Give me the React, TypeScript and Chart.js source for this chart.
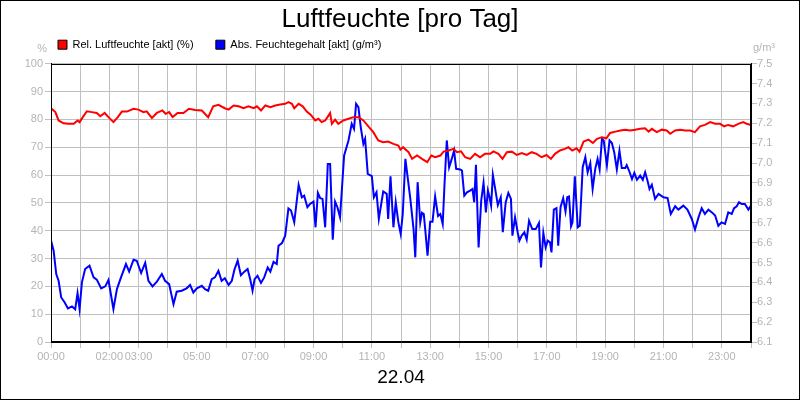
import { useEffect, useRef } from 'react';
import { Chart, ChartConfiguration, registerables } from 'chart.js';

Chart.register(...registerables);

// Rel. Luftfeuchte: time of day (hours) and value (%)
const relHours = [
    0, 0.15, 0.26, 0.43, 0.6, 0.78, 0.91, 0.98, 1.09, 1.23,
    1.4, 1.57, 1.69, 1.84, 1.97, 2.14, 2.29, 2.43, 2.6, 2.83,
    3.0, 3.17, 3.28, 3.46, 3.63, 3.82, 3.93, 4.05, 4.17, 4.34,
    4.54, 4.73, 4.94, 5.17, 5.39, 5.56, 5.74, 5.96, 6.09, 6.26,
    6.43, 6.6, 6.77, 6.95, 7.06, 7.2, 7.35, 7.52, 7.69, 7.86,
    8.03, 8.14, 8.26, 8.34, 8.49, 8.63, 8.77, 8.91, 9.06, 9.17,
    9.28, 9.4, 9.48, 9.57, 9.63, 9.74, 9.85, 10.02, 10.2, 10.37,
    10.54, 10.71, 10.88, 11.05, 11.22, 11.39, 11.56, 11.74, 11.91, 11.98,
    12.07, 12.26, 12.38, 12.55, 12.72, 12.9, 13.04, 13.17, 13.35, 13.46,
    13.63, 13.8, 13.92, 14.06, 14.2, 14.37, 14.54, 14.71, 14.88, 15.06,
    15.17, 15.34, 15.48, 15.63, 15.8, 15.97, 16.14, 16.31, 16.48, 16.65,
    16.82, 16.99, 17.14, 17.28, 17.45, 17.62, 17.74, 17.87, 18.02, 18.12,
    18.26, 18.43, 18.58, 18.72, 18.89, 19.04, 19.17, 19.35, 19.52, 19.69,
    19.86, 20.03, 20.2, 20.37, 20.49, 20.6, 20.77, 20.94, 21.11, 21.23,
    21.4, 21.57, 21.74, 21.91, 22.08, 22.25, 22.42, 22.6, 22.77, 22.94,
    23.08, 23.22, 23.39, 23.56, 23.74, 23.85, 24.0,
];
const relValues = [
    84, 82.6, 79.6, 78.6, 78.4, 78.4, 79.6, 79, 80.8, 82.9,
    82.6, 82.3, 81.1, 82.3, 80.8, 79, 80.8, 82.8, 82.8, 83.8,
    83.5, 82.6, 82.9, 80.5, 82.3, 83.2, 82, 82.6, 80.8, 82.3,
    82.3, 83.8, 83.4, 83.2, 80.8, 84.7, 85.2, 84, 83.5, 85,
    84.7, 84, 84.7, 84, 84.7, 83.2, 85, 84.4, 85, 85.3,
    85.6, 86.2, 85.6, 84, 85.6, 84.7, 82.8, 81.6, 79.6, 80.2,
    79, 79.6, 80.8, 82.3, 78.4, 79.9, 78.4, 79.6, 80.2, 80.8,
    80.8, 79.6, 77.5, 75.4, 72.4, 71.8, 72, 71.2, 70.6, 69.1,
    70, 68.2, 65.8, 67, 65.8, 64.6, 67, 66.4, 67, 68.4,
    68.8, 69.4, 68.2, 68.5, 66.4, 65.8, 67.6, 66.4, 67.6, 67.6,
    68.5, 67.6, 65.8, 68.2, 68.4, 67.2, 67.9, 67.2, 68.2, 67.6,
    66.4, 67.2, 65.8, 67.6, 68.8, 69.4, 70, 68.8, 69.6, 68.4,
    72, 72.7, 71.5, 73, 73.6, 73.2, 75.1, 75.6, 76, 76.3,
    76, 76.3, 76.6, 76.8, 75.6, 76.6, 75.4, 76.3, 76, 74.8,
    76, 76.3, 76, 76, 75.4, 77.5, 78, 79, 78.4, 78.4,
    77.5, 78, 77.5, 78.4, 79, 78.4, 78,
];

// Abs. Feuchtegehalt: time of day (hours) and value (g/m³)
const absHours = [
    0, 0.09, 0.18, 0.26, 0.35, 0.47, 0.58, 0.72, 0.83, 0.91,
    0.98, 1.06, 1.17, 1.32, 1.46, 1.57, 1.72, 1.86, 1.97, 2.14,
    2.26, 2.4, 2.57, 2.68, 2.83, 2.94, 3.09, 3.23, 3.34, 3.48,
    3.63, 3.8, 3.91, 4.05, 4.2, 4.31, 4.48, 4.65, 4.77, 4.88,
    5.0, 5.17, 5.28, 5.39, 5.51, 5.62, 5.74, 5.85, 5.96, 6.09,
    6.2, 6.29, 6.4, 6.51, 6.63, 6.74, 6.83, 6.91, 6.98, 7.08,
    7.2, 7.31, 7.43, 7.52, 7.63, 7.74, 7.8, 7.92, 8.03, 8.14,
    8.23, 8.34, 8.49, 8.6, 8.68, 8.79, 8.88, 9.0, 9.07, 9.15,
    9.23, 9.31, 9.4, 9.49, 9.57, 9.66, 9.74, 9.82, 9.91, 10.05,
    10.2, 10.31, 10.39, 10.46, 10.54, 10.62, 10.71, 10.77, 10.86, 11.0,
    11.07, 11.16, 11.24, 11.39, 11.51, 11.56, 11.64, 11.74, 11.82, 11.91,
    11.99, 12.06, 12.15, 12.32, 12.43, 12.49, 12.57, 12.66, 12.72, 12.78,
    12.83, 12.91, 13.0, 13.08, 13.17, 13.27, 13.35, 13.43, 13.49, 13.57,
    13.65, 13.74, 13.82, 13.89, 14.03, 14.09, 14.17, 14.26, 14.37, 14.45,
    14.51, 14.57, 14.66, 14.75, 14.83, 14.91, 14.98, 15.03, 15.09, 15.15,
    15.23, 15.32, 15.42, 15.49, 15.59, 15.68, 15.77, 15.82, 15.91, 16.0,
    16.06, 16.14, 16.23, 16.31, 16.39, 16.5, 16.62, 16.73, 16.8, 16.88,
    16.96, 17.03, 17.11, 17.16, 17.24, 17.33, 17.39, 17.47, 17.56, 17.64,
    17.7, 17.76, 17.83, 17.88, 17.96, 18.06, 18.13, 18.23, 18.32, 18.4,
    18.49, 18.57, 18.66, 18.74, 18.81, 18.89, 18.95, 19.06, 19.15, 19.23,
    19.31, 19.4, 19.49, 19.57, 19.69, 19.74, 19.84, 19.92, 20.0, 20.09,
    20.2, 20.29, 20.37, 20.45, 20.52, 20.6, 20.71, 20.83, 21.0, 21.14,
    21.25, 21.4, 21.51, 21.68, 21.82, 21.97, 22.08, 22.2, 22.31, 22.42,
    22.54, 22.66, 22.77, 22.88, 22.99, 23.11, 23.22, 23.34, 23.42, 23.51,
    23.59, 23.68, 23.79, 23.91, 24.0,
];
const absValues = [
    6.610, 6.559, 6.442, 6.408, 6.324, 6.299, 6.269, 6.279, 6.265, 6.346,
    6.265, 6.400, 6.467, 6.484, 6.425, 6.414, 6.370, 6.380, 6.412, 6.265,
    6.366, 6.425, 6.492, 6.454, 6.514, 6.509, 6.447, 6.498, 6.408, 6.380,
    6.404, 6.442, 6.408, 6.391, 6.290, 6.353, 6.358, 6.370, 6.387, 6.349,
    6.370, 6.383, 6.366, 6.358, 6.416, 6.425, 6.458, 6.408, 6.421, 6.387,
    6.408, 6.464, 6.509, 6.436, 6.454, 6.467, 6.416, 6.358, 6.416, 6.433,
    6.397, 6.425, 6.475, 6.454, 6.503, 6.492, 6.584, 6.598, 6.635, 6.772,
    6.761, 6.702, 6.890, 6.828, 6.836, 6.778, 6.794, 6.806, 6.677, 6.850,
    6.824, 6.820, 6.677, 6.996, 6.996, 6.615, 6.806, 6.778, 6.727, 7.038,
    7.114, 7.198, 7.172, 7.298, 7.282, 7.181, 7.097, 7.122, 6.946, 6.934,
    6.828, 6.853, 6.719, 6.857, 6.845, 6.719, 6.934, 6.677, 6.803, 6.702,
    6.643, 6.744, 7.021, 6.820, 6.668, 6.526, 6.904, 6.702, 6.750, 6.744,
    6.668, 6.534, 6.705, 6.705, 6.832, 6.734, 6.744, 6.694, 6.887, 7.114,
    6.979, 7.021, 7.063, 6.971, 6.968, 6.962, 6.836, 6.853, 6.862, 6.870,
    6.803, 6.992, 6.576, 6.811, 6.901, 6.752, 6.862, 6.832, 6.786, 6.940,
    6.870, 6.789, 6.828, 6.652, 6.803, 6.850, 6.820, 6.635, 6.727, 6.652,
    6.610, 6.635, 6.652, 6.615, 6.710, 6.668, 6.668, 6.699, 6.475, 6.649,
    6.576, 6.610, 6.601, 6.551, 6.766, 6.773, 6.584, 6.778, 6.824, 6.757,
    6.828, 6.832, 6.682, 6.702, 6.934, 6.677, 6.685, 6.979, 7.030, 6.954,
    7.000, 6.870, 6.971, 7.021, 6.968, 7.122, 7.114, 6.988, 7.114, 7.101,
    7.055, 6.968, 7.063, 6.975, 6.975, 6.990, 6.954, 6.920, 6.951, 6.916,
    6.937, 6.916, 6.954, 6.912, 6.870, 6.891, 6.820, 6.845, 6.828, 6.824,
    6.744, 6.783, 6.766, 6.786, 6.766, 6.719, 6.666, 6.727, 6.773, 6.744,
    6.766, 6.752, 6.736, 6.685, 6.702, 6.694, 6.752, 6.744, 6.773, 6.783,
    6.803, 6.794, 6.794, 6.766, 6.786,
];

const xTickHours = [0, 2, 3, 5, 7, 9, 11, 13, 15, 17, 19, 21, 23];
const xTickLabels = ['00:00', '02:00', '03:00', '05:00', '07:00', '09:00', '11:00', '13:00', '15:00', '17:00', '19:00', '21:00', '23:00'];
const seriesLabels = ['Rel. Luftfeuchte [akt] (%)', 'Abs. Feuchtegehalt [akt] (g/m³)'];
const chartTitle = 'Luftfeuchte [pro Tag]';
const dateLabel = '22.04';
const leftUnit = '%';
const rightUnit = 'g/m³';

const tickGray = '#b4b4b4';
const gridGray = '#c0c0c0';
const fontFamily = "'Liberation Sans', Arial, sans-serif";

Chart.defaults.font.family = fontFamily;

// black frame round the plot area and the unit texts above the axes
const framePlugin = {
    id: 'frame',
    afterDraw(chart: Chart) {
        const { ctx, chartArea } = chart;
        const l = Math.round(chartArea.left) + 0.5;
        const t = Math.round(chartArea.top) + 0.5;
        const r = Math.round(chartArea.right) - 0.5;
        const b = Math.round(chartArea.bottom) - 0.5;
        ctx.save();
        ctx.strokeStyle = '#000';
        ctx.lineWidth = 1;
        ctx.strokeRect(l, t, r - l, b - t);

        ctx.fillStyle = tickGray;
        ctx.font = `11px ${fontFamily}`;
        ctx.textBaseline = 'middle';
        ctx.textAlign = 'right';
        ctx.fillText(leftUnit, chartArea.left - 4, chartArea.top - 15);
        ctx.textAlign = 'left';
        ctx.fillText(rightUnit, chartArea.right + 2, chartArea.top - 16);
        ctx.restore();
    },
};

export default function App() {
    const canvasRef = useRef<HTMLCanvasElement | null>(null);

    useEffect(() => {
        if (!canvasRef.current) return;

        const config: ChartConfiguration = {
            type: 'line',
            data: {
                datasets: [
                    {
                        label: seriesLabels[0],
                        data: relHours.map((h, i) => ({ x: h, y: relValues[i] })),
                        borderColor: '#ff0000',
                        backgroundColor: '#ff0000',
                        borderWidth: 2,
                        pointRadius: 0,
                        yAxisID: 'y',
                    },
                    {
                        label: seriesLabels[1],
                        data: absHours.map((h, i) => ({ x: h, y: absValues[i] })),
                        borderColor: '#0000ff',
                        backgroundColor: '#0000ff',
                        borderWidth: 2,
                        pointRadius: 0,
                        yAxisID: 'y1',
                    },
                ],
            },
            options: {
                responsive: false,
                animation: false,
                layout: { padding: 0 },
                plugins: {
                    tooltip: { enabled: false },
                    title: {
                        display: true,
                        text: chartTitle,
                        color: '#000',
                        font: { size: 26, weight: 'normal' },
                        padding: { top: 3.5, bottom: -3.5 },
                    },
                    // empty spacer between legend and plot area
                    subtitle: {
                        display: true,
                        text: '',
                        font: { size: 1, lineHeight: 1 },
                        padding: { top: 2.5, bottom: 0 },
                        weight: 500,
                    } as any,
                    legend: {
                        position: 'top',
                        align: 'start',
                        fullSize: false,
                        labels: {
                            boxWidth: 9,
                            boxHeight: 9,
                            padding: 7,
                            color: '#000',
                            font: { size: 11 },
                            // wider gap after the first entry, as in the original
                            generateLabels: (chart: Chart) =>
                                Chart.defaults.plugins.legend.labels.generateLabels(chart).map((item, i) => ({
                                    ...item,
                                    text: i === 0 ? item.text + '     ' : item.text,
                                    strokeStyle: '#000',
                                    lineWidth: 1,
                                })),
                        },
                    },
                },
                scales: {
                    x: {
                        type: 'linear',
                        min: 0,
                        max: 24,
                        ticks: {
                            stepSize: 1,
                            autoSkip: false,
                            maxRotation: 0,
                            color: tickGray,
                            font: { size: 11 },
                            padding: 2,
                            callback: (value) => {
                                const i = xTickHours.indexOf(Number(value));
                                return i >= 0 ? xTickLabels[i] : '';
                            },
                        },
                        grid: { color: gridGray, tickLength: 6 },
                        border: { color: '#000' },
                        title: {
                            display: true,
                            text: dateLabel,
                            color: '#000',
                            font: { size: 19 },
                            padding: { top: 0, bottom: 10 },
                        },
                        afterFit: (scale: any) => {
                            scale.height = 57;
                            scale.paddingLeft = 0;
                            scale.paddingRight = 0;
                        },
                    },
                    y: {
                        position: 'left',
                        min: 0,
                        max: 100,
                        ticks: { stepSize: 10, color: tickGray, font: { size: 11 }, padding: 2 },
                        grid: { color: gridGray, tickLength: 6 },
                        border: { color: '#000' },
                        afterFit: (scale: any) => {
                            scale.width = 50;
                        },
                    },
                    y1: {
                        position: 'right',
                        min: 6.1,
                        max: 7.5,
                        ticks: {
                            stepSize: 0.1,
                            color: tickGray,
                            font: { size: 11 },
                            padding: 0,
                            callback: (value) => Number(value).toFixed(1),
                        },
                        grid: { drawOnChartArea: false, color: gridGray, tickLength: 6 },
                        border: { color: '#000' },
                        afterFit: (scale: any) => {
                            scale.width = 48;
                        },
                    },
                },
            },
            plugins: [framePlugin],
        };

        const chart = new Chart(canvasRef.current, config);
        return () => chart.destroy();
    }, []);

    return (
        <div
            style={{
                position: 'absolute',
                left: 0,
                top: 0,
                width: 800,
                height: 400,
                boxSizing: 'border-box',
                border: '1px solid #000',
                background: '#fff',
            }}
        >
            <canvas ref={canvasRef} width={798} height={398} style={{ display: 'block' }} />
        </div>
    );
}
